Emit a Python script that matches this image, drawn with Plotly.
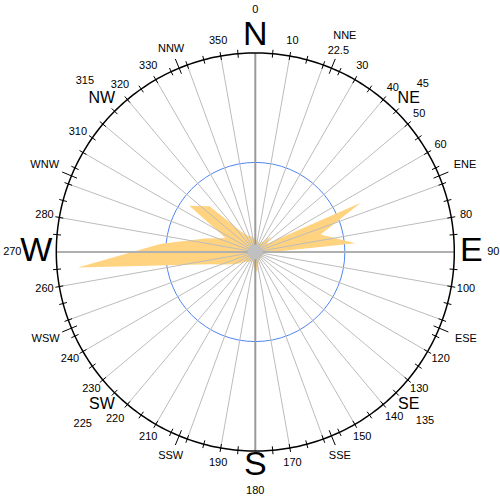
import numpy as np
import plotly.graph_objects as go

# wind rose, % of time per 10-degree sector (sector centres 5, 15, ... 355)
directions = list(range(5, 360, 10))
frequency = [1.2, 1.0, 1.0, 1.2, 2.2, 1.4, 11.7, 6.8, 10.1, 1.0,
             0.9, 0.8, 0.8, 0.8, 0.8, 0.9, 1.2, 2.0, 1.6, 1.0,
             1.0, 1.2, 1.4, 2.0, 3.0, 4.8, 17.9, 9.5, 5.2, 3.3,
             8.1, 6.5, 2.5, 1.8, 1.6, 1.4]

degree_labels = [10, 30, 40, 50, 60, 80, 100, 120, 130, 140, 150, 170,
                 190, 210, 220, 230, 240, 260, 280, 310, 320, 330, 350]
cardinals = ["N", "E", "S", "W"]
cardinal_degrees = ["0", "90", "180", "270"]
intercardinals = ["NE", "SE", "SW", "NW"]
intercardinal_degrees = ["45", "135", "225", "315"]
secondary = ["NNE", "ENE", "ESE", "SSE", "SSW", "WSW", "WNW", "NNW"]

R_OUT = 20.0      # outer compass ring
RING = 9.0        # blue reference ring
PX = R_OUT / 199  # data units per pixel
R_AXIS = 244 * PX

FONT = "Liberation Sans, Arial, sans-serif"

fig = go.Figure()

# rose
fig.add_trace(go.Scatterpolar(
    r=frequency + frequency[:1], theta=directions + directions[:1],
    mode="lines", fill="toself", fillcolor="#FFD37F",
    line=dict(width=0, color="#FFD37F"), hoverinfo="skip"))

# spokes every 10 degrees
sr, st = [], []
for a in range(0, 360, 10):
    if a % 90 == 0:
        continue
    sr += [0, R_OUT, None]
    st += [a, a, None]
fig.add_trace(go.Scatterpolar(r=sr, theta=st, mode="lines",
                              line=dict(color="#bcbcbc", width=1), hoverinfo="skip"))

# N-S and E-W axes
fig.add_trace(go.Scatterpolar(r=[R_OUT, 0, R_OUT], theta=[90, 0, 270], mode="lines",
                              line=dict(color="#b0b0b0", width=2), hoverinfo="skip"))
fig.add_trace(go.Scatterpolar(r=[R_OUT, 0, R_OUT], theta=[0, 0, 180], mode="lines",
                              line=dict(color="#9a9a9a", width=2), hoverinfo="skip"))

# centre
fig.add_trace(go.Scatterpolar(r=[0], theta=[0], mode="markers",
                              marker=dict(size=15, color="#c0c0c0"), hoverinfo="skip"))

# outer ring
ring_t = np.arange(0, 361, 1)
fig.add_trace(go.Scatterpolar(r=[R_OUT] * len(ring_t), theta=ring_t, mode="lines",
                              line=dict(color="black", width=1.5), hoverinfo="skip"))

# ticks every 5 degrees, longer ones at the 16-point directions
tr, tt = [], []
for a in range(5, 360, 5):
    if a % 90 == 0:
        continue
    tr += [R_OUT - 4 * PX, R_OUT + 4 * PX, None]
    tt += [a, a, None]
for a in np.arange(22.5, 360, 45):
    tr += [R_OUT - 6 * PX, R_OUT + 10 * PX, None]
    tt += [a, a, None]
fig.add_trace(go.Scatterpolar(r=tr, theta=tt, mode="lines",
                              line=dict(color="black", width=1), hoverinfo="skip"))


def text_trace(labels, angles, radii, size):
    return go.Scatterpolar(r=radii, theta=angles, mode="text", text=labels,
                           textposition="middle center", cliponaxis=False,
                           textfont=dict(family=FONT, size=size, color="black"),
                           hoverinfo="skip")


# small nudges so the numbers clear the NW / SW / SE names
label_angle = {310: 304, 320: 321}
label_gap = {220: 19, 320: 16, 140: 17}
fig.add_trace(text_trace([str(d) for d in degree_labels],
                         [label_angle.get(d, d) for d in degree_labels],
                         [R_OUT + label_gap.get(d, 15) * PX for d in degree_labels], 11))
fig.add_trace(text_trace(["22.5"], [22.5], [R_OUT + 18 * PX], 11))
fig.add_trace(text_trace(cardinals, [0, 90, 180, 270],
                         [R_OUT + p * PX for p in (17, 17, 15, 20)], 34))
fig.add_trace(text_trace(cardinal_degrees, [0, 90, 180, 270],
                         [R_OUT + p * PX for p in (43, 39, 40, 44)], 11))
fig.add_trace(text_trace(intercardinals, [45, 135, 225, 315],
                         [R_OUT + 18 * PX] * 4, 16))
fig.add_trace(text_trace(intercardinal_degrees, [45, 135, 225, 315],
                         [R_OUT + p * PX for p in (38, 41, 45, 42)], 11))
fig.add_trace(text_trace(secondary, list(np.arange(22.5, 360, 45)),
                         [R_OUT + p * PX for p in (35, 28, 29, 22, 22, 28, 29, 21)], 11))

cx, cy = 255.3, 248
fig.update_layout(
    width=500, height=500,
    margin=dict(l=0, r=0, t=0, b=0),
    paper_bgcolor="white",
    showlegend=False,
    polar=dict(
        domain=dict(x=[(cx - 244) / 500, (cx + 244) / 500],
                    y=[(cy - 244) / 500, (cy + 244) / 500]),
        bgcolor="rgba(0,0,0,0)",
        radialaxis=dict(range=[0, R_AXIS], tickvals=[RING], showticklabels=False,
                        ticks="", showline=False, showgrid=True,
                        gridcolor="#4f86f2", gridwidth=1),
        angularaxis=dict(rotation=90, direction="clockwise", showgrid=False,
                         showline=False, showticklabels=False, ticks=""),
    ),
)

fig.write_html("out.html", config={"displayModeBar": False},
               post_script="document.body.style.margin='0';")
